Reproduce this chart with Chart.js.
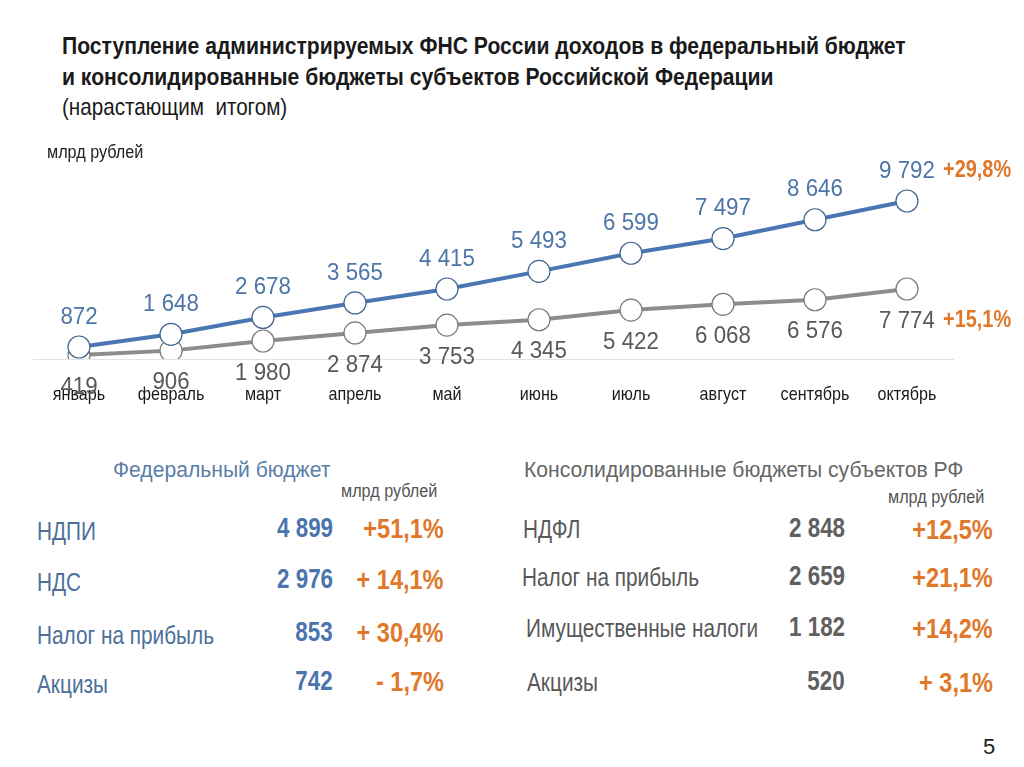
<!DOCTYPE html>
<html>
<head>
<meta charset="utf-8">
<script src="https://cdn.jsdelivr.net/npm/chart.js@4.4.0/dist/chart.umd.min.js"></script>
<style>
  body { margin: 0; background: #fff; width: 1024px; height: 767px; overflow: hidden; position: relative;
         font-family: "Liberation Sans", Arial, sans-serif; }
  .t { position: absolute; white-space: nowrap; line-height: 1; }
  #chart { position: absolute; left: 0; top: 140px; }
</style>
</head>
<body>
<canvas id="chart" width="1024" height="290"></canvas>
<div id="texts"></div>

<script>
const months = ['январь', 'февраль', 'март', 'апрель', 'май', 'июнь', 'июль', 'август', 'сентябрь', 'октябрь'];
const federal = [872, 1648, 2678, 3565, 4415, 5493, 6599, 7497, 8646, 9792];
const regional = [419, 906, 1980, 2874, 3753, 4345, 5422, 6068, 6576, 7774];
const federalGrowth = '+29,8%';
const regionalGrowth = '+15,1%';

const fedNames = ['НДПИ', 'НДС', 'Налог на прибыль', 'Акцизы'];
const fedValues = ['4 899', '2 976', '853', '742'];
const fedPct = ['+51,1%', '+ 14,1%', '+ 30,4%', '- 1,7%'];

const regNames = ['НДФЛ', 'Налог на прибыль', 'Имущественные налоги', 'Акцизы'];
const regValues = ['2 848', '2 659', '1 182', '520'];
const regPct = ['+12,5%', '+21,1%', '+14,2%', '+ 3,1%'];

const FONT = '"Liberation Sans", Arial, sans-serif';
const BLUE = '#4a77b4';
const GREY = '#8c8c8c';
const ORANGE = '#e0782a';

function squeezed(c, text, x, y, align, sx) {
    c.save();
    c.translate(x, y);
    c.scale(sx, 1);
    c.textAlign = align;
    c.fillText(text, 0, 0);
    c.restore();
}

function fmt(v) {
    return v.toLocaleString('ru-RU').replace(/\s/g, ' ');
}

// month names, value labels and growth figures
const labelsPlugin = {
    id: 'labelsPlugin',
    afterDatasetsDraw(chart) {
        const c = chart.ctx;
        const xs = chart.scales.x;
        c.save();
        c.textBaseline = 'middle';
        c.font = '19px ' + FONT;
        c.fillStyle = '#1a1a1a';
        chart.data.labels.forEach((m, i) => {
            squeezed(c, m, xs.getPixelForValue(i), chart.chartArea.bottom + 36, 'center', 0.85);
        });
        chart.data.datasets.forEach((ds, i) => {
            const meta = chart.getDatasetMeta(i);
            const up = i === 0;
            c.font = '24px ' + FONT;
            c.fillStyle = up ? '#4e75a8' : '#595959';
            meta.data.forEach((pt, j) => {
                squeezed(c, fmt(ds.data[j]), pt.x, up ? pt.y - 30 : pt.y + 32, 'center', 0.93);
            });
            const last = meta.data[meta.data.length - 1];
            c.font = 'bold 24px ' + FONT;
            c.fillStyle = ORANGE;
            squeezed(c, up ? federalGrowth : regionalGrowth, last.x + 36, up ? last.y - 31 : last.y + 31, 'left', 0.83);
        });
        c.restore();
    }
};

new Chart(document.getElementById('chart'), {
    type: 'line',
    data: {
        labels: months,
        datasets: [{
            data: federal,
            yAxisID: 'yFed',
            borderColor: BLUE,
            borderWidth: 4,
            pointRadius: 11,
            pointBackgroundColor: '#fff',
            pointBorderColor: '#41658f',
            pointBorderWidth: 1.2,
            tension: 0
        }, {
            data: regional,
            yAxisID: 'yReg',
            borderColor: GREY,
            borderWidth: 4,
            pointRadius: 11,
            pointBackgroundColor: '#fff',
            pointBorderColor: '#7a7a7a',
            pointBorderWidth: 1.2,
            tension: 0
        }]
    },
    options: {
        responsive: false,
        animation: false,
        devicePixelRatio: 1,
        layout: { padding: { left: 33, right: 71, top: 20, bottom: 0 } },
        plugins: { legend: { display: false }, tooltip: { enabled: false } },
        scales: {
            x: {
                offset: true,
                grid: { display: false },
                border: { display: true, color: '#e3e3e3', width: 1 },
                ticks: { display: false },
                afterFit(scale) { scale.height = 71; }
            },
            yFed: { display: false, min: 139, max: 12297 },
            yReg: { display: false, min: -27, max: 22151 }
        }
    },
    plugins: [labelsPlugin]
});

// slide texts: placed by the centre of the capitals, squeezed to look like a narrow face
const host = document.getElementById('texts');
function add(text, opt) {
    const d = document.createElement('div');
    d.className = 't';
    d.textContent = text;
    const size = opt.size;
    d.style.fontSize = size + 'px';
    d.style.top = Math.round(opt.cy - 0.49 * size) + 'px';
    d.style.color = opt.color;
    if (opt.bold) d.style.fontWeight = 'bold';
    const sx = opt.sx || 1;
    if (opt.right !== undefined) {
        d.style.right = (1024 - opt.right) + 'px';
        d.style.transformOrigin = 'right center';
    } else {
        d.style.left = opt.left + 'px';
        d.style.transformOrigin = 'left center';
    }
    d.style.transform = 'scaleX(' + sx + ')';
    host.appendChild(d);
}

add('Поступление администрируемых ФНС России доходов в федеральный бюджет', { left: 62, cy: 46, size: 24, color: '#1a1a1a', bold: true, sx: 0.88 });
add('и консолидированные бюджеты субъектов Российской Федерации', { left: 62, cy: 77, size: 24, color: '#1a1a1a', bold: true, sx: 0.88 });
add('(нарастающим\u00a0 итогом)', { left: 62, cy: 107, size: 24, color: '#1a1a1a', sx: 0.86 });
add('млрд рублей', { left: 47, cy: 152, size: 18, color: '#222', sx: 0.9 });

add('Федеральный бюджет', { left: 113, cy: 470, size: 22, color: '#5a7ea8', sx: 0.96 });
add('млрд рублей', { left: 341, cy: 491, size: 18, color: '#555', sx: 0.9 });
add('Консолидированные бюджеты субъектов РФ', { left: 524, cy: 470, size: 22, color: '#666', sx: 0.96 });
add('млрд рублей', { left: 888, cy: 497, size: 18, color: '#555', sx: 0.9 });

const fedY = [531, 582, 635, 684];
const regY = [529, 577, 628, 682];
fedNames.forEach((n, i) => {
    add(n, { left: 37, cy: fedY[i], size: 26, color: '#4d6f9a', sx: 0.8 });
    add(fedValues[i], { right: 333, cy: fedY[i] - 3, size: 28, color: '#4a74ad', bold: true, sx: 0.8 });
    add(fedPct[i], { right: 444, cy: fedY[i] - 2, size: 28, color: ORANGE, bold: true, sx: 0.84 });
});
const regLeft = [523, 522, 526, 527];
regNames.forEach((n, i) => {
    add(n, { left: regLeft[i], cy: regY[i], size: 26, color: '#595959', sx: 0.8 });
    add(regValues[i], { right: 845, cy: regY[i] - 1, size: 28, color: '#606060', bold: true, sx: 0.8 });
    add(regPct[i], { right: 993, cy: regY[i] + 1, size: 28, color: ORANGE, bold: true, sx: 0.84 });
});
add('5', { left: 983, cy: 747, size: 22, color: '#222' });
</script>
</body>
</html>
